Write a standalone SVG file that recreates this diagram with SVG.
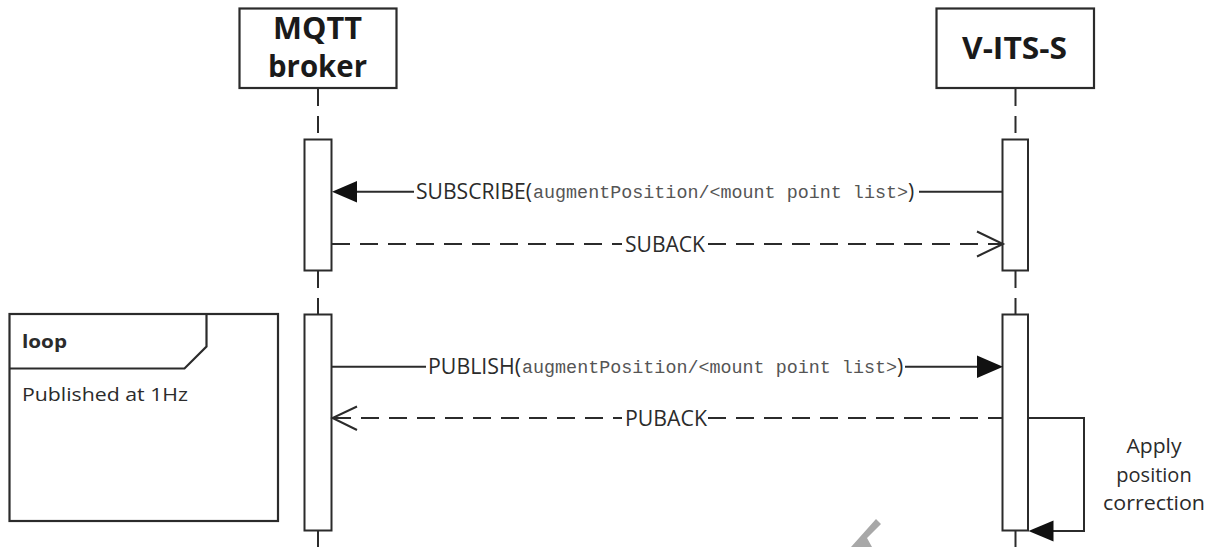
<svg xmlns="http://www.w3.org/2000/svg" width="1214" height="547" viewBox="0 0 1214 547">
<defs>
<style>
.box{fill:#fff;stroke:#2b2b2b;stroke-width:2.2}
.act{fill:#fff;stroke:#2b2b2b;stroke-width:2}
.life{stroke:#2b2b2b;stroke-width:2;stroke-dasharray:17 10;fill:none}
.msg{stroke:#2b2b2b;stroke-width:2;fill:none}
.dash{stroke:#2b2b2b;stroke-width:2;fill:none;stroke-dasharray:18 10}
.head{fill:#111;stroke:none}
.open{fill:none;stroke:#2b2b2b;stroke-width:2}
.title{font-family:"Open Sans","Noto Sans","Liberation Sans",sans-serif;font-weight:bold;font-size:31px;fill:#1a1a1a}
.lbl{font-family:"Open Sans","Noto Sans","Liberation Sans",sans-serif;font-size:21px;fill:#2b2b2b}
.mono{font-family:"Liberation Mono","Courier New",monospace;font-size:18.4px;fill:#555}
.note{font-family:"Open Sans","Noto Sans","Liberation Sans",sans-serif;font-size:19px;fill:#2b2b2b}
.side{font-family:"Open Sans","Noto Sans","Liberation Sans",sans-serif;font-size:20px;fill:#2b2b2b;text-anchor:middle}
</style>
</defs>
<rect width="1214" height="547" fill="#fff"/>

<g id="connectors">
  <line class="life" x1="318" y1="89" x2="318" y2="139"/>
  <line class="life" x1="318" y1="271" x2="318" y2="314"/>
  <line class="life" x1="318" y1="531" x2="318" y2="547"/>
  <line class="life" x1="1015.5" y1="89" x2="1015.5" y2="139"/>
  <line class="life" x1="1015.5" y1="271" x2="1015.5" y2="314"/>
  <line class="life" x1="1015.5" y1="531" x2="1015.5" y2="547"/>
</g>

<g id="activations">
  <rect class="act" x="304.5" y="139.5" width="27" height="131"/>
  <rect class="act" x="1002.5" y="139.5" width="25.5" height="131"/>
  <rect class="act" x="304.5" y="314.5" width="27" height="216"/>
  <rect class="act" x="1002.5" y="314.5" width="25.5" height="216"/>
</g>

<g id="broker">
  <rect class="box" x="239.5" y="8.5" width="157" height="79.5"/>
  <text class="title" x="273" y="39" textLength="89" lengthAdjust="spacingAndGlyphs">MQTT</text>
  <text class="title" x="268" y="77" textLength="99" lengthAdjust="spacingAndGlyphs">broker</text>
</g>

<g id="vits">
  <rect class="box" x="936.5" y="8.5" width="157.5" height="79.5"/>
  <text class="title" x="962" y="59" textLength="105" lengthAdjust="spacingAndGlyphs">V-ITS-S</text>
</g>

<g id="loop-frame">
  <rect class="box" x="9.5" y="314" width="268.5" height="207"/>
  <polyline class="box" points="9.5,368.5 184.5,368.5 206.5,346.5 206.5,314" style="fill:none"/>
  <text class="note" x="22" y="348" style="font-weight:bold;font-size:18px" textLength="45" lengthAdjust="spacingAndGlyphs">loop</text>
  <text class="note" x="22" y="401" textLength="166" lengthAdjust="spacingAndGlyphs">Published at 1Hz</text>
</g>

<g id="messages">
  <!-- SUBSCRIBE -->
  <line class="msg" x1="352" y1="191.7" x2="414" y2="191.7"/>
  <line class="msg" x1="919" y1="191.7" x2="1003" y2="191.7"/>
  <polygon class="head" points="332,191.7 357,181 357,202.5"/>
  <text class="lbl" x="416" y="199" textLength="116" lengthAdjust="spacingAndGlyphs">SUBSCRIBE(</text>
  <text class="mono" x="533" y="198" textLength="375" lengthAdjust="spacingAndGlyphs">augmentPosition/&lt;mount point list&gt;</text>
  <text class="lbl" x="908" y="199">)</text>

  <!-- SUBACK -->
  <line class="dash" x1="332" y1="244" x2="622" y2="244"/>
  <line class="dash" x1="708" y1="244" x2="1002" y2="244"/>
  <polyline class="open" points="977,231.5 1003,244 977,256.5"/>
  <text class="lbl" x="625" y="251.5" textLength="80" lengthAdjust="spacingAndGlyphs">SUBACK</text>

  <!-- PUBLISH -->
  <line class="msg" x1="332" y1="366.7" x2="426" y2="366.7"/>
  <line class="msg" x1="905" y1="366.7" x2="980" y2="366.7"/>
  <polygon class="head" points="1003,366.7 977,355.5 977,378"/>
  <text class="lbl" x="428" y="374" textLength="93" lengthAdjust="spacingAndGlyphs">PUBLISH(</text>
  <text class="mono" x="522" y="373" textLength="375" lengthAdjust="spacingAndGlyphs">augmentPosition/&lt;mount point list&gt;</text>
  <text class="lbl" x="897" y="374">)</text>

  <!-- PUBACK -->
  <line class="dash" x1="333" y1="418" x2="622" y2="418"/>
  <line class="dash" x1="708" y1="418" x2="1002" y2="418"/>
  <polyline class="open" points="357,406.5 332.5,418 357,430"/>
  <text class="lbl" x="625" y="425.5" textLength="82" lengthAdjust="spacingAndGlyphs">PUBACK</text>

  <!-- self message -->
  <polyline class="msg" points="1028,418 1084,418 1084,531 1050,531"/>
  <polygon class="head" points="1028.5,531 1053.5,520.5 1053.5,541.5"/>
  <text class="side" x="1154" y="453" textLength="55" lengthAdjust="spacingAndGlyphs">Apply</text>
  <text class="side" x="1154" y="482">position</text>
  <text class="side" x="1154" y="510" textLength="102" lengthAdjust="spacingAndGlyphs">correction</text>
</g>

<polygon points="876,519 881,524 867,538 872,547 851,547" fill="#a8a8a8"/>
</svg>
